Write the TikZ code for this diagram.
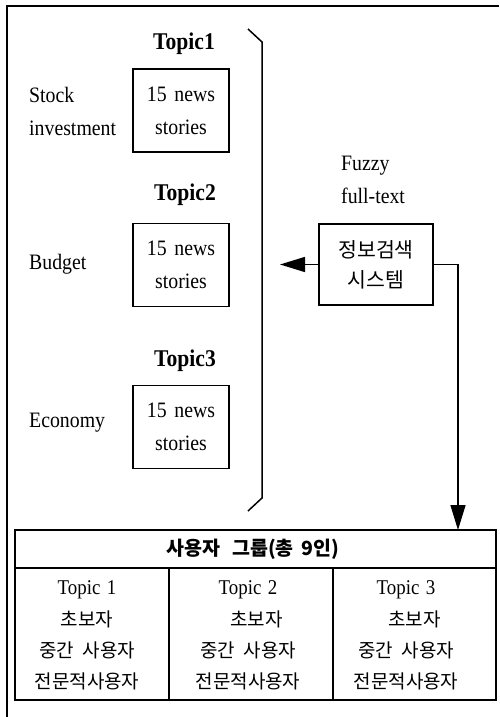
\documentclass[tikz,border=0pt]{standalone}
\usepackage{fontspec}
\setmainfont{Liberation Serif}[FakeStretch=0.9]
\newfontfamily\kr{Noto Sans CJK KR}
\usetikzlibrary{arrows.meta}
\begin{document}
\begin{tikzpicture}[x=1pt,y=-1pt,
  lbl/.style={font=\fontsize{22}{33}\selectfont, inner sep=0pt, align=left},
  topiclbl/.style={font=\fontsize{24}{28}\selectfont\bfseries, inner sep=0pt},
  newsbox/.style={draw, line width=1.5pt, minimum width=96pt, minimum height=83pt, inner sep=0pt, align=center, font=\fontsize{22}{33}\selectfont},
  sysbox/.style={draw, line width=1.5pt, minimum width=114pt, minimum height=81pt, inner sep=0pt, align=center, font=\kr\fontsize{20.5}{30}\selectfont},
  tcell/.style={align=center, inner sep=0pt, font=\kr\fontsize{19}{31.3}\selectfont},
  bigarrow/.style={line width=1.5pt, -{Triangle[length=25pt,width=15pt]}}
]
\useasboundingbox (0,0) rectangle (499,717);
% outer frame (left and top)
\draw[line width=2pt] (7,717) -- (7,6) -- (499,6);

% topics
\node[topiclbl] (t1) at (184,44) {Topic1};
\node[topiclbl] (t2) at (185,195) {Topic2};
\node[topiclbl] (t3) at (185,361) {Topic3};

\node[newsbox] (b1) at (181,110.5) {15\hspace{0.35em}news\\stories};
\node[newsbox] (b2) at (181,265) {15\hspace{0.35em}news\\stories};
\node[newsbox] (b3) at (181,427) {15\hspace{0.35em}news\\stories};

\node[lbl, anchor=west] (l1) at (29,111) {Stock\\investment};
\node[lbl, anchor=west] (l2) at (29,264) {Budget};
\node[lbl, anchor=west] (l3) at (29,423) {Economy};

% bracket
\coordinate (br1) at (248,29);
\coordinate (br2) at (262,42);
\coordinate (br3) at (262,498);
\coordinate (br4) at (248,511);
\draw[line width=1.5pt] (br1) -- (br2) -- (br3) -- (br4);

% system
\node[lbl, anchor=west] (fz) at (341,180) {Fuzzy\\full-text};
\node[sysbox] (sys) at (376,264.5) {정보검색\\시스템};
\coordinate (lt) at (280,264.5);
\draw[bigarrow] (sys.west) -- (lt);

% table
\node[draw=none, minimum width=481pt, minimum height=38pt, inner sep=0pt, font=\kr\bfseries\fontsize{19.5}{22}\selectfont] (hdr) at (253,549) {사용자\hspace{0.6em}그룹(총\hspace{0.4em}9인)};
\draw[line width=2pt] (15,530) rectangle (496,700);
\draw[line width=1.3pt] (15,568) -- (496,568);
\draw[line width=1.3pt] (169,568) -- (169,700);
\draw[line width=1.3pt] (333,568) -- (333,700);
\coordinate (dn) at (458,530);
\draw[bigarrow] (sys.east) -| (dn);

\node[tcell] (c1) at (87,635.5) {{\rmfamily\fontsize{21}{31.3}\selectfont Topic\hspace{0.3em}1}\\초보자\\중간\hspace{0.45em}사용자\\전문적사용자};
\node[tcell] (c2) at (248,635.5) {{\rmfamily\fontsize{21}{31.3}\selectfont Topic\hspace{0.3em}2}\\\hspace{0.9em}초보자\\중간\hspace{0.45em}사용자\\전문적사용자};
\node[tcell] (c3) at (406,635.5) {{\rmfamily\fontsize{21}{31.3}\selectfont Topic\hspace{0.3em}3}\\\hspace{0.9em}초보자\\중간\hspace{0.45em}사용자\\전문적사용자};
\end{tikzpicture}
\end{document}
